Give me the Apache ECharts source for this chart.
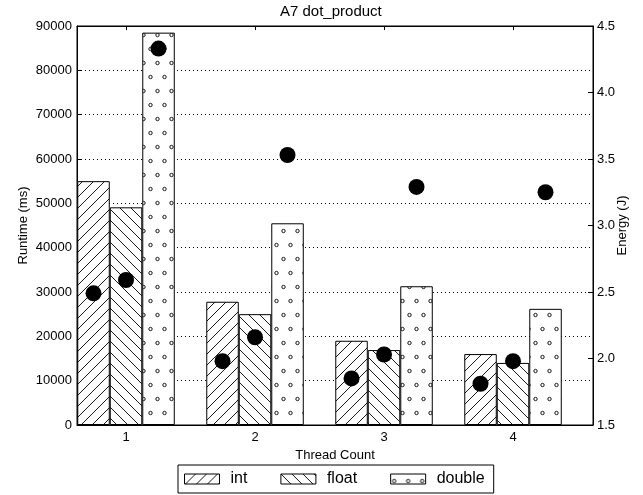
<!DOCTYPE html>
<html><head><meta charset="utf-8">
<script src="https://cdn.jsdelivr.net/npm/echarts@6/dist/echarts.min.js"></script>
<style>html,body{margin:0;padding:0;background:#fff}#c{width:643px;height:495px}</style>
</head><body><div id="c"></div>
<script>
// ---- data ----
const threads = [1, 2, 3, 4];
const seriesNames = ['int', 'float', 'double'];
const runtimeInt = [55000, 27800, 19000, 16000];
const runtimeFloat = [49100, 25000, 16900, 14000];
const runtimeDouble = [88500, 45500, 31300, 26200];
const energyInt = [2.49, 1.98, 1.85, 1.81];
const energyFloat = [2.59, 2.16, 2.03, 1.98];
const energyDouble = [4.33, 3.53, 3.29, 3.25];
const titleText = 'A7 dot_product';

// ---- patterns ----
function hatch(dir) {
  const s = 11, c = document.createElement('canvas');
  c.width = s; c.height = s;
  const g = c.getContext('2d');
  g.fillStyle = '#fff'; g.fillRect(0, 0, s, s);
  g.strokeStyle = '#000'; g.lineWidth = 0.9;
  g.beginPath();
  if (dir > 0) {
    g.moveTo(-1, s + 1); g.lineTo(s + 1, -1);
    g.moveTo(-1, 1); g.lineTo(1, -1);
    g.moveTo(s - 1, s + 1); g.lineTo(s + 1, s - 1);
  } else {
    g.moveTo(-1, -1); g.lineTo(s + 1, s + 1);
    g.moveTo(s - 1, -1); g.lineTo(s + 1, 1);
    g.moveTo(-1, s - 1); g.lineTo(1, s + 1);
  }
  g.stroke();
  return { image: c, repeat: 'repeat' };
}
function dots() {
  const w = 14, h = 28, c = document.createElement('canvas');
  c.width = w; c.height = h;
  const g = c.getContext('2d');
  g.fillStyle = '#fff'; g.fillRect(0, 0, w, h);
  g.strokeStyle = '#000'; g.lineWidth = 0.9;
  [[3.5, 7], [10.5, 21]].forEach(p => {
    g.beginPath(); g.arc(p[0], p[1], 1.7, 0, Math.PI * 2); g.stroke();
  });
  return { image: c, repeat: 'repeat' };
}
const patterns = [hatch(1), hatch(-1), dots()];
const runtimes = [runtimeInt, runtimeFloat, runtimeDouble];
const energies = [energyInt, energyFloat, energyDouble];

const font = 'Liberation Sans, Arial, Helvetica, sans-serif';
const barW = 32.5;
const offsets = [-barW, 0, barW];

const series = [];
seriesNames.forEach((n, i) => {
  series.push({
    name: n, type: 'bar', xAxisIndex: 0, yAxisIndex: 0,
    barWidth: barW, barGap: '0%',
    data: threads.map((t, k) => [t, runtimes[i][k]]),
    itemStyle: { color: patterns[i], borderColor: '#000', borderWidth: 1 },
    emphasis: { disabled: true }, z: 2
  });
});
seriesNames.forEach((n, i) => {
  series.push({
    name: n + ' energy', type: 'scatter', xAxisIndex: 0, yAxisIndex: 1,
    symbol: 'circle', symbolSize: 16, symbolOffset: [offsets[i], 0],
    data: threads.map((t, k) => [t, energies[i][k]]),
    itemStyle: { color: '#000', opacity: 1 },
    emphasis: { disabled: true }, z: 5
  });
});

const chart = echarts.init(document.getElementById('c'), null, { renderer: 'canvas' });
chart.setOption({
  animation: false,
  backgroundColor: '#fff',
  textStyle: { fontFamily: font },
  title: {
    text: titleText, left: 280, top: 4, padding: 0,
    textStyle: { fontFamily: font, fontSize: 15, fontWeight: 'normal', color: '#000' }
  },
  grid: { left: 77, right: 50, top: 26, bottom: 70, outerBoundsMode: 'none', containLabel: false,
          show: true, borderColor: '#000', borderWidth: 1, backgroundColor: 'transparent' },
  legend: {
    data: seriesNames, left: 178, top: 465, orient: 'horizontal',
    icon: 'rect', itemWidth: 35, itemHeight: 10, itemGap: 33,
    padding: [6, 9, 6, 6], borderColor: '#000', borderWidth: 1,
    itemStyle: { borderColor: '#000', borderWidth: 1 },
    textStyle: { fontFamily: font, fontSize: 16, color: '#000', padding: [0, 0, 0, 6] },
    selectedMode: false
  },
  xAxis: [{
    type: 'value', min: 0.62, max: 4.62, position: 'bottom',
    name: 'Thread Count', nameLocation: 'middle', nameGap: 24, nameMoveOverlap: false,
    nameTextStyle: { fontFamily: font, fontSize: 13, color: '#000' },
    axisLine: { lineStyle: { color: '#000', width: 1 } },
    axisTick: { inside: true, length: 5, customValues: threads, lineStyle: { color: '#000' } },
    axisLabel: { customValues: threads, fontFamily: font, fontSize: 13, color: '#000', margin: 6 },
    splitLine: { show: false }
  }, {
    type: 'value', min: 0.62, max: 4.62, position: 'top',
    axisLine: { lineStyle: { color: '#000', width: 1 } },
    axisTick: { inside: true, length: 4, customValues: threads, lineStyle: { color: '#000' } },
    axisLabel: { show: false },
    splitLine: { show: false }
  }],
  yAxis: [{
    type: 'value', min: 0, max: 90000, interval: 10000, position: 'left',
    name: 'Runtime (ms)', nameLocation: 'middle', nameGap: 47, nameRotate: 90, nameMoveOverlap: false,
    nameTextStyle: { fontFamily: font, fontSize: 13, color: '#000' },
    axisLine: { show: true, lineStyle: { color: '#000', width: 1 } },
    axisTick: { show: true, inside: true, length: 5, lineStyle: { color: '#000' } },
    axisLabel: { fontFamily: font, fontSize: 13, color: '#000', margin: 5, formatter: v => String(v) },
    splitLine: { show: true, lineStyle: { color: '#000', type: [1, 3], width: 1 } }
  }, {
    type: 'value', min: 1.5, max: 4.5, interval: 0.5, position: 'right',
    name: 'Energy (J)', nameLocation: 'middle', nameGap: 23, nameRotate: 90, nameMoveOverlap: false,
    nameTextStyle: { fontFamily: font, fontSize: 13, color: '#000' },
    axisLine: { show: true, lineStyle: { color: '#000', width: 1 } },
    axisTick: { show: true, inside: true, length: 5, lineStyle: { color: '#000' } },
    axisLabel: { fontFamily: font, fontSize: 13, color: '#000', margin: 4, formatter: v => v.toFixed(1) },
    splitLine: { show: false }
  }],
  series: series
});
</script></body></html>
